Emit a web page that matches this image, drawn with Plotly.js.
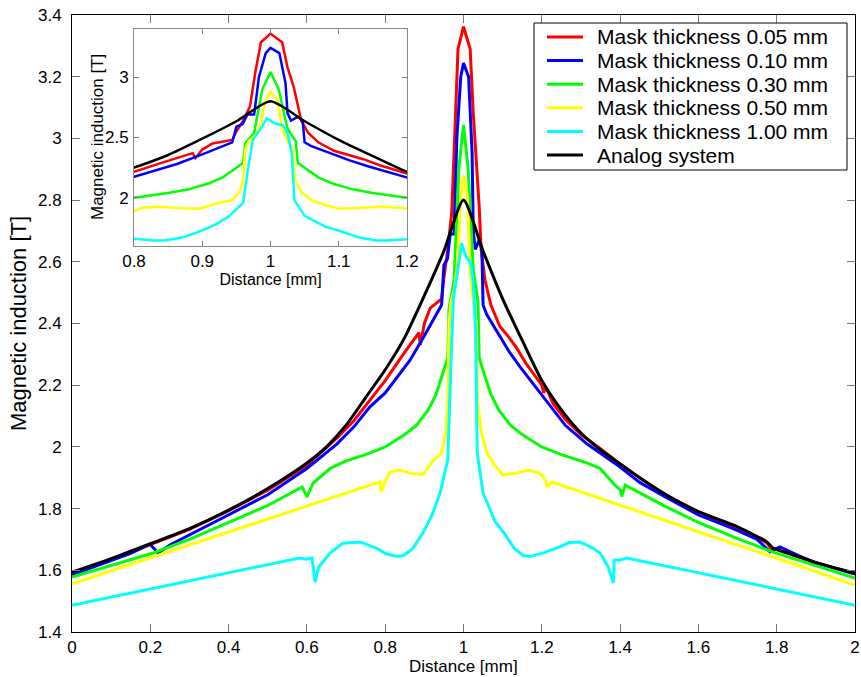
<!DOCTYPE html>
<html>
<head>
<meta charset="utf-8">
<script src="https://cdn.plot.ly/plotly-3.0.1.min.js"></script>
<style>html,body{margin:0;padding:0;background:#fff;}#chart{width:861px;height:677px;}</style>
</head>
<body>
<div id="chart"></div>
<script>
// Series names (legend labels)
const seriesNames = ["Mask thickness 0.05 mm","Mask thickness 0.10 mm","Mask thickness 0.30 mm","Mask thickness 0.50 mm","Mask thickness 1.00 mm","Analog system"];

// Mask thickness 0.05 mm (red)
const redX = [0,0.1,0.2,0.3,0.4,0.5,0.6,0.677,0.72,0.761,0.8,0.846,0.886,0.89,0.9,0.915,0.944,0.95,0.96,0.97,0.978,0.986,1.0,1.017,1.025,1.034,1.04,1.045,1.055,1.07,1.093,1.116,1.136,1.16,1.178,1.2,1.205,1.21,1.229,1.26,1.3,1.349,1.4,1.45,1.519,1.6,1.689,1.774,1.785,1.8,1.86,1.9,2.0];
const redY = [1.59,1.634,1.683,1.733,1.793,1.86,1.94,2.029,2.085,2.152,2.215,2.3,2.37,2.33,2.40,2.45,2.48,2.55,2.64,2.76,3.05,3.29,3.362,3.29,3.08,2.92,2.78,2.64,2.54,2.46,2.39,2.355,2.32,2.27,2.24,2.2,2.175,2.195,2.14,2.09,2.04,1.995,1.945,1.9,1.842,1.79,1.742,1.69,1.672,1.668,1.641,1.625,1.589];

// Mask thickness 0.10 mm (blue)
const blueX = [0,0.1,0.15,0.199,0.22,0.25,0.3,0.4,0.5,0.6,0.677,0.72,0.761,0.8,0.863,0.9,0.944,0.95,0.959,0.966,0.976,0.983,0.993,1.0,1.013,1.022,1.025,1.03,1.04,1.047,1.05,1.059,1.093,1.116,1.144,1.2,1.229,1.26,1.315,1.349,1.4,1.45,1.519,1.6,1.689,1.75,1.783,1.79,1.808,1.86,1.9,2.0];
const blueY = [1.585,1.63,1.655,1.685,1.656,1.682,1.715,1.78,1.845,1.93,2.01,2.065,2.13,2.175,2.28,2.36,2.46,2.59,2.61,2.69,2.69,3.0,3.2,3.244,3.2,2.95,2.70,2.64,2.67,2.64,2.46,2.43,2.357,2.31,2.26,2.17,2.12,2.07,2.01,1.98,1.935,1.885,1.835,1.78,1.735,1.70,1.66,1.665,1.676,1.645,1.625,1.588];

// Mask thickness 0.30 mm (green)
const greenX = [0,0.1,0.207,0.3,0.4,0.5,0.588,0.6,0.616,0.659,0.7,0.75,0.8,0.85,0.88,0.91,0.93,0.948,0.96,0.963,0.976,0.988,1.0,1.012,1.025,1.037,1.04,1.052,1.07,1.09,1.12,1.15,1.2,1.25,1.315,1.349,1.385,1.401,1.404,1.413,1.519,1.6,1.689,1.791,1.9,2.0];
const greenY = [1.578,1.615,1.656,1.70,1.755,1.81,1.87,1.838,1.883,1.93,1.955,1.975,2.0,2.04,2.07,2.12,2.17,2.24,2.29,2.45,2.54,2.9,3.043,2.9,2.57,2.47,2.29,2.24,2.17,2.12,2.07,2.04,2.0,1.975,1.948,1.93,1.878,1.86,1.839,1.876,1.805,1.755,1.708,1.659,1.615,1.575];

// Mask thickness 0.50 mm (yellow)
const yellowX = [0,0.2,0.4,0.6,0.787,0.79,0.8,0.812,0.838,0.863,0.896,0.922,0.944,0.955,0.96,0.963,0.968,0.978,0.984,0.993,1.0,1.01,1.017,1.025,1.033,1.036,1.045,1.06,1.08,1.1,1.137,1.165,1.195,1.21,1.213,1.226,1.4,1.6,1.8,2.0];
const yellowY = [1.556,1.64,1.724,1.808,1.887,1.854,1.89,1.918,1.925,1.915,1.91,1.955,1.98,2.05,2.15,2.40,2.47,2.52,2.59,2.81,2.88,2.81,2.57,2.47,2.40,2.15,2.05,1.98,1.94,1.91,1.915,1.925,1.915,1.89,1.87,1.886,1.81,1.725,1.639,1.552];

// Mask thickness 1.00 mm (cyan)
const cyanX = [0,0.2,0.4,0.582,0.598,0.613,0.621,0.63,0.659,0.692,0.736,0.78,0.8,0.83,0.847,0.87,0.896,0.92,0.94,0.96,0.966,0.974,0.984,0.995,1.005,1.01,1.018,1.025,1.031,1.035,1.05,1.08,1.104,1.13,1.153,1.17,1.2,1.246,1.27,1.298,1.33,1.349,1.37,1.383,1.385,1.40,1.417,1.6,1.8,2.0];
const cyanY = [1.487,1.54,1.592,1.64,1.636,1.64,1.562,1.61,1.656,1.688,1.692,1.67,1.655,1.645,1.648,1.67,1.72,1.78,1.85,1.96,2.2,2.48,2.56,2.66,2.62,2.61,2.60,2.535,2.37,1.98,1.85,1.76,1.72,1.67,1.648,1.645,1.655,1.676,1.69,1.692,1.672,1.656,1.61,1.559,1.633,1.633,1.64,1.592,1.54,1.487];

// Analog system (black)
const blackX = [0,0.1,0.2,0.3,0.4,0.5,0.6,0.65,0.7,0.75,0.8,0.85,0.9,0.95,1.0,1.05,1.1,1.15,1.2,1.25,1.3,1.35,1.4,1.45,1.519,1.6,1.689,1.774,1.791,1.86,1.9,2.0];
const blackY = [1.594,1.638,1.686,1.735,1.795,1.865,1.948,2.0,2.07,2.16,2.25,2.355,2.49,2.635,2.80,2.635,2.48,2.345,2.215,2.12,2.045,1.99,1.945,1.9,1.844,1.79,1.747,1.693,1.672,1.643,1.625,1.591];

// Axis tick labels
const mainXTicks = [0,0.2,0.4,0.6,0.8,1,1.2,1.4,1.6,1.8,2];
const mainYTicks = [1.4,1.6,1.8,2,2.2,2.4,2.6,2.8,3,3.2,3.4];
const insetXTicks = [0.8,0.9,1,1.1,1.2];
const insetYTicks = [2,2.5,3];

const colors = ["#ff0000","#0000ff","#00ff00","#ffff00","#00ffff","#000000"];
const xs = [redX,blueX,greenX,yellowX,cyanX,blackX];
const ys = [redY,blueY,greenY,yellowY,cyanY,blackY];

const FONT = "Liberation Sans, Arial, sans-serif";
const traces = [];
for (let i = 0; i < 6; i++) {
  const ln = {color: colors[i], width: 3};
  if (i === 5) { ln.shape = "spline"; ln.smoothing = 0.6; }
  traces.push({x: xs[i], y: ys[i], type: "scatter", mode: "lines", name: seriesNames[i], showlegend: false,
    line: ln, xaxis: "x", yaxis: "y", hoverinfo: "skip"});
}
for (let i = 0; i < 6; i++) {
  const ln = {color: colors[i], width: 2.5};
  if (i === 5) { ln.shape = "spline"; ln.smoothing = 0.6; }
  traces.push({x: xs[i], y: ys[i], type: "scatter", mode: "lines", name: seriesNames[i],
    showlegend: false, line: ln, xaxis: "x2", yaxis: "y2", hoverinfo: "skip"});
}

// Legend box (drawn in paper space, like the figure's boxed legend)
const PLOT_L = 72, PLOT_W = 783, PLOT_B = 632, PLOT_H = 617;
const px2x = p => (p - PLOT_L) / PLOT_W;
const px2y = p => (PLOT_B - p) / PLOT_H;
const shapes = [{type: "rect", xref: "paper", yref: "paper", x0: px2x(534), x1: px2x(847), y0: px2y(170), y1: px2y(23),
  line: {color: "#000", width: 1}, fillcolor: "#fff", layer: "above"}];
const annotations = [];
const rowTop = 37, rowStep = 23.6;
for (let i = 0; i < 6; i++) {
  const yy = px2y(rowTop + i * rowStep);
  shapes.push({type: "line", xref: "paper", yref: "paper", x0: px2x(547), x1: px2x(583), y0: yy, y1: yy,
    line: {color: colors[i], width: 3}, layer: "above"});
  annotations.push({xref: "paper", yref: "paper", x: px2x(595), y: yy, xanchor: "left", yanchor: "middle",
    text: seriesNames[i], showarrow: false, font: {family: FONT, size: 21, color: "#000"}});
}
// Inset y-axis title
annotations.push({xref: "paper", yref: "paper", x: px2x(97), y: px2y(137), xanchor: "center", yanchor: "middle", textangle: -90,
  text: "Magnetic induction [T]", showarrow: false, font: {family: FONT, size: 17, color: "#000"}});
// Main x-axis title
annotations.push({xref: "paper", yref: "paper", x: 0.5, y: px2y(677), xanchor: "center", yanchor: "bottom", borderpad: 0,
  text: "Distance [mm]", showarrow: false, font: {family: FONT, size: 17, color: "#000"}});

const axisCommon = {showgrid: false, zeroline: false, showline: true, linecolor: "#000", linewidth: 1,
  ticks: "inside", ticklen: 8, tickcolor: "#777", mirror: "allticks", tickfont: {family: FONT, size: 17, color: "#000"}};

const layout = {
  width: 861, height: 677,
  margin: {l: 72, r: 6, t: 15, b: 45},
  paper_bgcolor: "#fff", plot_bgcolor: "#fff",
  font: {family: FONT, color: "#000"},
  showlegend: false,
  shapes: shapes,
  annotations: annotations,
  xaxis: Object.assign({}, axisCommon, {domain: [0, 1], range: [0, 2], tickvals: mainXTicks, ticktext: mainXTicks.map(String),
    anchor: "y", ticklabelstandoff: 0}),
  yaxis: Object.assign({}, axisCommon, {domain: [0, 1], range: [1.4, 3.4], tickvals: mainYTicks, ticktext: mainYTicks.map(String),
    anchor: "x", ticklabelstandoff: 6, title: {text: "Magnetic induction [T]", font: {family: FONT, size: 22}, standoff: 5}}),
  xaxis2: Object.assign({}, axisCommon, {domain: [px2x(134), px2x(407)], range: [0.8, 1.2], tickvals: insetXTicks, ticktext: insetXTicks.map(String),
    anchor: "y2", linecolor: "#888", ticklen: 5, ticklabelstandoff: 0, title: {text: "Distance [mm]", font: {family: FONT, size: 16}, standoff: 0}}),
  yaxis2: Object.assign({}, axisCommon, {domain: [px2y(246), px2y(29)], range: [1.6, 3.4], tickvals: insetYTicks, ticktext: insetYTicks.map(String),
    anchor: "x2", linecolor: "#888", ticklen: 5, ticklabelstandoff: 1})
};

Plotly.newPlot("chart", traces, layout, {staticPlot: true, displayModeBar: false});
</script>
</body>
</html>
